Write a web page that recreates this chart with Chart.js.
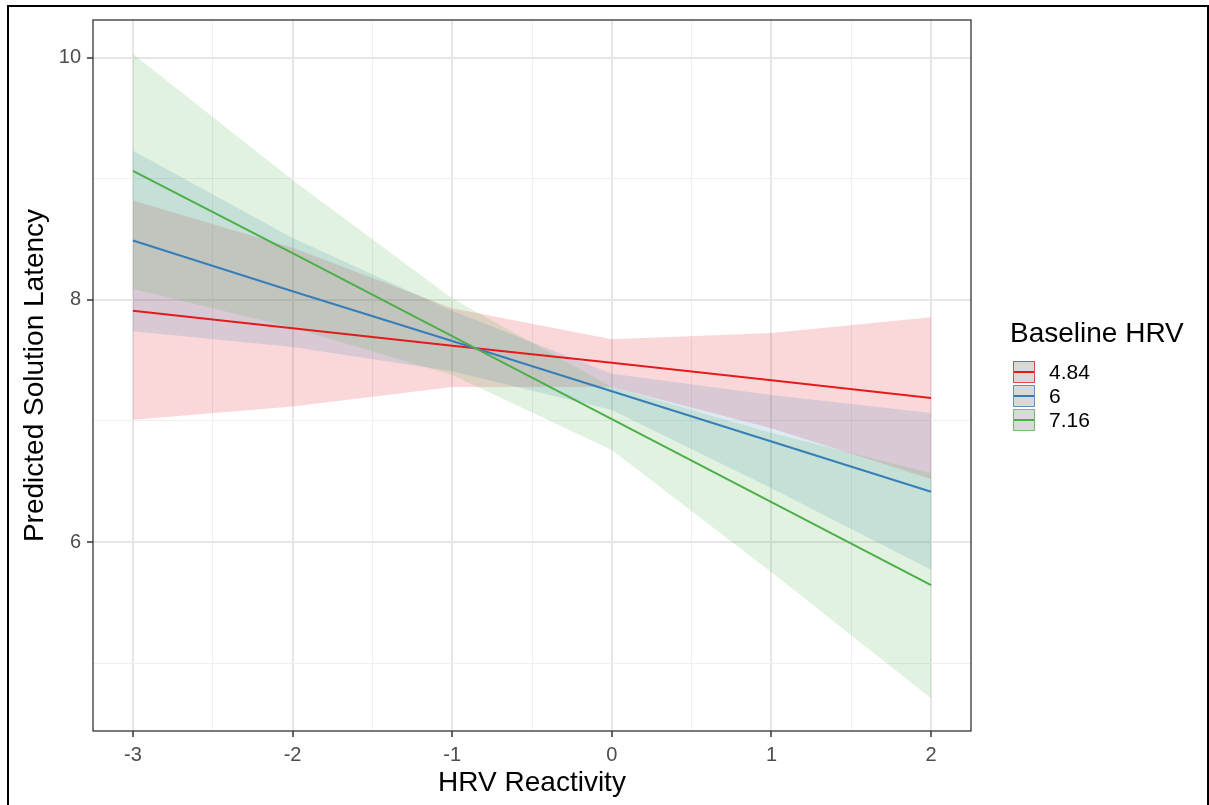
<!DOCTYPE html>
<html>
<head>
<meta charset="utf-8">
<script src="https://cdn.jsdelivr.net/npm/chart.js@4.4.0/dist/chart.umd.min.js"></script>
<style>
    body { margin: 0; background: #fff; font-family: "Liberation Sans", Arial, sans-serif; }
    #wrap { position: relative; width: 1209px; height: 805px; overflow: hidden; }
    #grafico { position: absolute; left: 0; top: 0; }
    #moldura { position: absolute; left: 7px; top: 5px; width: 1198px; height: 830px; border: 2px solid #000; pointer-events: none; }
    #legenda { position: absolute; left: 1010px; top: 317px; color: #000; }
    #legenda .titulo { font-size: 28px; line-height: 32px; margin-bottom: 11px; }
    #legenda .item { display: flex; align-items: center; height: 24px; }
    #legenda .chave { position: relative; width: 20px; height: 20px; margin-left: 3px; background: #d9d9d9; border-width: 1.5px; border-style: solid; }
    #legenda .chave span { position: absolute; left: 0; right: 0; top: 9px; height: 2px; }
    #legenda .rotulo { font-size: 21px; margin-left: 14px; }
</style>
</head>
<body>
<div id="wrap">
    <canvas id="grafico" width="1209" height="805"></canvas>
    <div id="moldura"></div>
    <div id="legenda"></div>
</div>
<script>
// valores
const xReatividade = [-3, -2, -1, 0, 1, 2];
const grupos = ["4.84", "6", "7.16"];
const cores = ["228,26,28", "55,126,184", "77,175,74"];

const linhaVermelha = [7.91, 7.765, 7.62, 7.48, 7.335, 7.19];
const linhaAzul = [8.49, 8.07, 7.66, 7.245, 6.83, 6.415];
const linhaVerde = [9.065, 8.385, 7.70, 7.015, 6.33, 5.645];

const supVermelha = [8.82, 8.43, 7.93, 7.675, 7.725, 7.857];
const infVermelha = [7.01, 7.12, 7.28, 7.28, 6.94, 6.52];
const supAzul = [9.23, 8.51, 7.91, 7.39, 7.215, 7.065];
const infAzul = [7.74, 7.61, 7.41, 7.09, 6.445, 5.77];
const supVerde = [10.03, 8.99, 8.01, 7.28, 6.90, 6.57];
const infVerde = [8.09, 7.77, 7.38, 6.76, 5.75, 4.71];

const ticksX = [-3, -2.5, -2, -1.5, -1, -0.5, 0, 0.5, 1, 1.5, 2];
const ticksY = [5, 6, 7, 8, 9, 10];
const rotulosY = [6, 8, 10];

function pontos(valores) {
    return valores.map((v, i) => ({ x: xReatividade[i], y: v }));
}

const linhas = [linhaVermelha, linhaAzul, linhaVerde];
const superiores = [supVermelha, supAzul, supVerde];
const inferiores = [infVermelha, infAzul, infVerde];

let datasets = [];
// faixas em ordem inversa: o filler desenha do último para o primeiro,
// assim o vermelho fica embaixo e o verde por cima (como no ggplot)
[2, 1, 0].forEach(i => {
    datasets.push({
        label: grupos[i] + " sup",
        data: pontos(superiores[i]),
        borderWidth: 0,
        pointRadius: 0,
        backgroundColor: `rgba(${cores[i]},0.17)`,
        fill: "+1",
        order: 10
    });
    datasets.push({
        label: grupos[i] + " inf",
        data: pontos(inferiores[i]),
        borderWidth: 0,
        pointRadius: 0,
        fill: false,
        order: 10
    });
});
grupos.forEach((g, i) => {
    datasets.push({
        label: g,
        data: pontos(linhas[i]),
        borderColor: `rgb(${cores[i]})`,
        borderWidth: 2,
        pointRadius: 0,
        fill: false,
        order: 3 - i
    });
});

const bordaPainel = {
    id: "bordaPainel",
    afterDraw(chart) {
        const { ctx, chartArea: a } = chart;
        ctx.save();
        ctx.strokeStyle = "#333";
        ctx.lineWidth = 1.3;
        ctx.strokeRect(a.left, a.top, a.right - a.left, a.bottom - a.top);
        ctx.restore();
    }
};

const fonteBase = "'Liberation Sans', Arial, sans-serif";

new Chart(document.getElementById("grafico"), {
    type: "line",
    data: { datasets: datasets },
    options: {
        responsive: false,
        animation: false,
        devicePixelRatio: 1,
        layout: { padding: { left: 0, right: 238, top: 20, bottom: 0 } },
        plugins: { legend: { display: false }, tooltip: { enabled: false } },
        scales: {
            x: {
                type: "linear",
                min: -3.25,
                max: 2.25,
                afterBuildTicks: s => { s.ticks = ticksX.map(v => ({ value: v })); },
                afterFit: s => { s.height = 74; },
                border: { display: false },
                grid: {
                    color: c => Number.isInteger(c.tick.value) ? "#e6e6e6" : "#efefef",
                    lineWidth: c => Number.isInteger(c.tick.value) ? 2 : 1,
                    tickColor: c => Number.isInteger(c.tick.value) ? "#333" : "rgba(0,0,0,0)",
                    tickWidth: 1.5,
                    tickLength: 6
                },
                ticks: {
                    autoSkip: false,
                    maxRotation: 0,
                    padding: 6,
                    color: "#4d4d4d",
                    font: { size: 20, family: fonteBase },
                    callback: v => Number.isInteger(v) ? String(v) : ""
                },
                title: {
                    display: true,
                    text: "HRV Reactivity",
                    color: "#000",
                    font: { size: 28, family: fonteBase },
                    padding: { top: 0, bottom: 5 }
                }
            },
            y: {
                type: "linear",
                min: 4.44,
                max: 10.31,
                afterBuildTicks: s => { s.ticks = ticksY.map(v => ({ value: v })); },
                afterFit: s => { s.width = 93; },
                border: { display: false },
                grid: {
                    color: c => rotulosY.includes(c.tick.value) ? "#e6e6e6" : "#efefef",
                    lineWidth: c => rotulosY.includes(c.tick.value) ? 2 : 1,
                    tickColor: c => rotulosY.includes(c.tick.value) ? "#333" : "rgba(0,0,0,0)",
                    tickWidth: 1.5,
                    tickLength: 6
                },
                ticks: {
                    autoSkip: false,
                    padding: 6,
                    color: "#4d4d4d",
                    font: { size: 20, family: fonteBase },
                    callback: v => rotulosY.includes(v) ? String(v) : ""
                },
                title: {
                    display: true,
                    text: "Predicted Solution Latency",
                    color: "#000",
                    font: { size: 28, family: fonteBase },
                    padding: { top: 18, bottom: 0 }
                }
            }
        }
    },
    plugins: [bordaPainel]
});

// legenda
let html = `<div class="titulo">Baseline HRV</div>`;
grupos.forEach((g, i) => {
    html += `<div class="item"><div class="chave" style="border-color:rgba(${cores[i]},0.75)"><span style="background:rgb(${cores[i]})"></span></div><div class="rotulo">${g}</div></div>`;
});
document.getElementById("legenda").innerHTML = html;
</script>
</body>
</html>
